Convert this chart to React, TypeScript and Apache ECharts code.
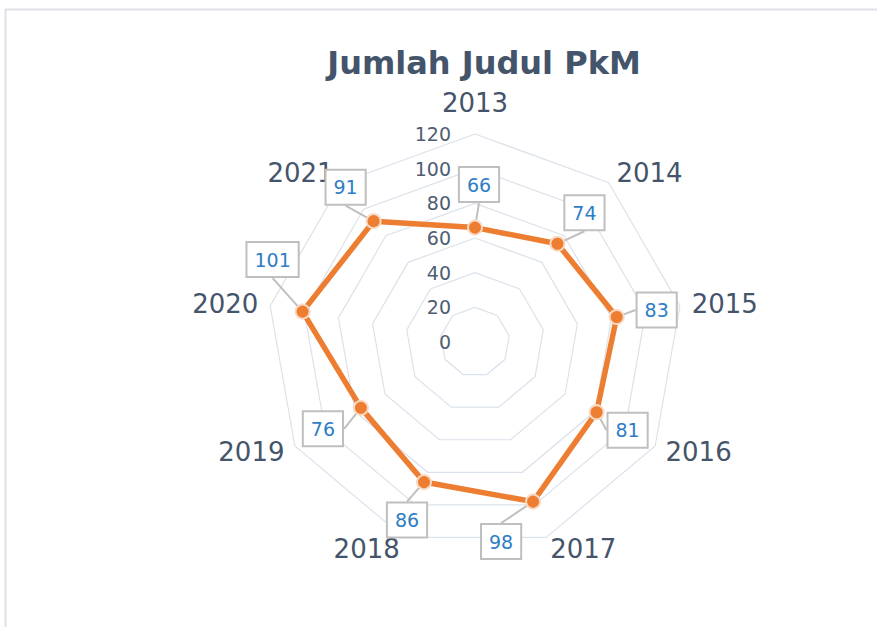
import React, { useEffect, useRef } from "react";
import * as echarts from "echarts";

const categories = ["2013", "2014", "2015", "2016", "2017", "2018", "2019", "2020", "2021"];
const values = [66, 74, 83, 81, 98, 86, 76, 101, 91];
const axisMax = 120;
const tickStep = 20;
const title = "Jumlah Judul PkM";

// label offsets (box centre relative to its point), keyed by the label text
const labelOffsets: Record<string, [number, number]> = {
  "66": [4, -43],
  "74": [27, -31],
  "83": [40, -7],
  "81": [31, 18],
  "98": [-32, 40],
  "86": [-17, 38],
  "76": [-38, 21],
  "101": [-30, -52],
  "91": [-28, -34],
};

const FONT = "DejaVu Sans";

// ECharts lays radar indicators out counter-clockwise; the reference runs clockwise,
// so keep the first category at the top and reverse the rest.
const order = [0, ...categories.slice(1).map((_, i) => categories.length - 1 - i)];

export default function App() {
  const ref = useRef<HTMLDivElement>(null);
  useEffect(() => {
    if (!ref.current) return;
    const chart = echarts.init(ref.current, null, { renderer: "svg" });
    chart.setOption({
      animation: false,
      backgroundColor: "#ffffff",
      title: {
        text: title,
        left: 479,
        top: 42,
        textAlign: "center",
        textStyle: { fontFamily: FONT, fontSize: 32, fontWeight: "bold", color: "#44546a" },
      },
      graphic: [
        {
          type: "rect",
          shape: { x: 5.5, y: 9.5, width: 1000, height: 1000 },
          style: { fill: "none", stroke: "#dde1e7", lineWidth: 2 },
          silent: true,
        },
      ],
      radar: {
        center: [475, 342],
        radius: 208,
        startAngle: 90,
        splitNumber: axisMax / tickStep,
        shape: "polygon",
        indicator: order.map((k, i) =>
          i === 0
            ? {
                name: categories[k],
                min: 0,
                max: axisMax,
                nameGap: 18,
                axisLabel: {
                  show: true,
                  margin: 24,
                  fontFamily: FONT,
                  fontSize: 19,
                  color: "#4f5d72",
                },
              }
            : { name: categories[k], min: 0, max: axisMax }
        ),
        nameGap: 12,
        axisName: { fontFamily: FONT, fontSize: 26, color: "#44546a" },
        axisLine: { show: false },
        axisTick: { show: false },
        axisLabel: { show: false },
        splitLine: { lineStyle: { color: "#dce2eb", width: 1.2 } },
        splitArea: { show: false },
      },
      series: [
        {
          type: "radar",
          symbol: "circle",
          symbolSize: 14,
          lineStyle: { color: "#ed7d31", width: 5.5 },
          itemStyle: { color: "#ed7d31", borderColor: "#f8d9c4", borderWidth: 2 },
          label: {
            show: true,
            position: "inside",
            fontFamily: FONT,
            fontSize: 19,
            color: "#2e7dc6",
            backgroundColor: "#ffffff",
            borderColor: "#bfbfbf",
            borderWidth: 2,
            padding: [8, 7, 6, 7],
          },
          labelLine: { show: true, lineStyle: { color: "#bfbfbf", width: 2 } },
          labelLayout: (p: any) => {
            const o = labelOffsets[p.text] || [0, 0];
            return { dx: o[0], dy: o[1] };
          },
          data: [{ value: order.map((k) => values[k]), name: title }],
        },
      ],
    });
    return () => chart.dispose();
  }, []);
  return (
    <div
      ref={ref}
      style={{ position: "fixed", left: 0, top: 0, width: 877, height: 627 }}
    />
  );
}
